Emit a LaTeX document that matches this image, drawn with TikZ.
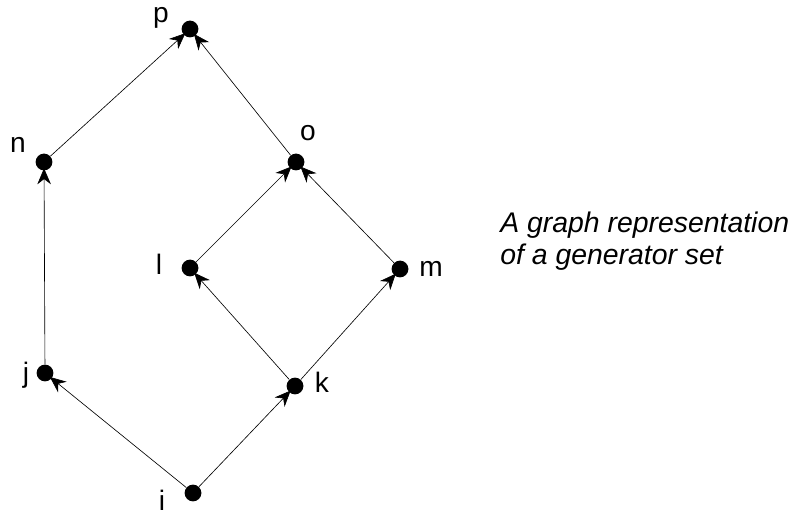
\documentclass[tikz,border=0pt]{standalone}
\usepackage{fontspec}
\setmainfont{Liberation Sans}
\usetikzlibrary{arrows.meta}

\begin{document}
\begin{tikzpicture}[x=0.25mm,y=-0.25mm,
  font=\fontsize{20}{23}\selectfont, >={Stealth[length=4mm,width=3.4mm]},
  dot/.style={circle,fill=black,inner sep=0pt,minimum size=4.2mm},
  lab/.style={inner sep=0pt},
  edge/.style={->,line width=0.45pt,shorten >=-0.6mm}]
  \useasboundingbox (0,0) rectangle (799,515);
  \node[dot,label={[lab,shift={(-29,-11)}]center:p}] (p) at (190,29) {};
  \node[dot,label={[lab,shift={(-26,-17)}]center:n}] (n) at (44,162) {};
  \node[dot,label={[lab,shift={(12,-29)}]center:o}] (o) at (296,162) {};
  \node[dot,label={[lab,shift={(-31,-4)}]center:l}] (l) at (190,268) {};
  \node[dot,label={[lab,shift={(31,0)}]center:m}] (m) at (400,269) {};
  \node[dot,label={[lab,shift={(-19,2)}]center:j}] (j) at (45,373) {};
  \node[dot,label={[lab,shift={(27,-4)}]center:k}] (k) at (295,386) {};
  \node[dot,label={[lab,shift={(-31,7)}]center:i}] (i) at (193,493) {};
  \node[align=left,anchor=base west,inner sep=0pt,
    font=\fontsize{20.2}{23.4}\selectfont\itshape] (cap) at (500,265)
    {A graph representation\\of a generator set};
  \draw[edge] (i)--(j);
  \draw[edge] (i)--(k);
  \draw[edge] (j)--(n);
  \draw[edge] (n)--(p);
  \draw[edge] (k)--(l);
  \draw[edge] (k)--(m);
  \draw[edge] (l)--(o);
  \draw[edge] (m)--(o);
  \draw[edge] (o)--(p);
\end{tikzpicture}
\end{document}
